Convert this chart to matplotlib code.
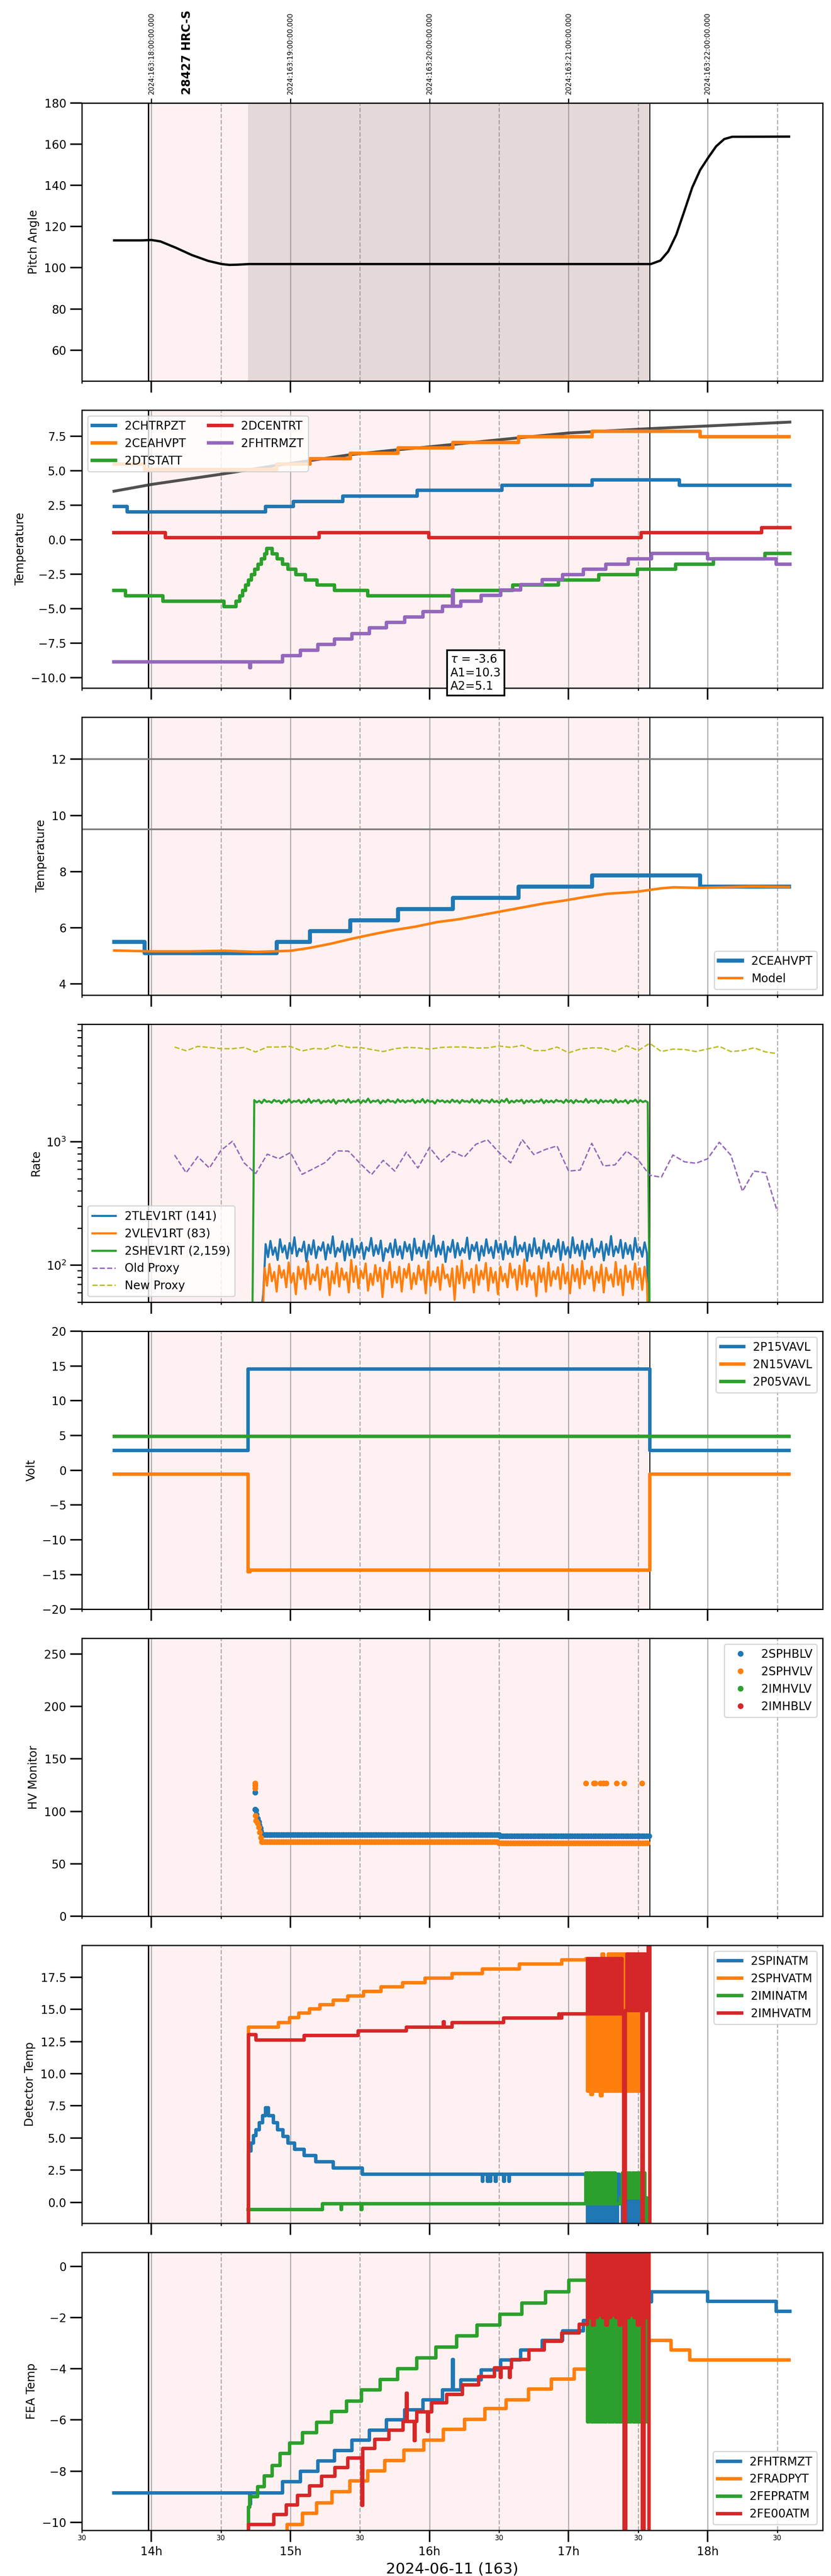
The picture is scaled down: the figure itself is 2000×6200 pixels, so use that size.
import numpy as np
import matplotlib
matplotlib.use('Agg')
import matplotlib.pyplot as plt
import matplotlib.dates as mdates
from matplotlib.ticker import MultipleLocator, FuncFormatter
from datetime import timedelta

plt.rcParams['font.size'] = 10

# times are local hours on 2024-06-11 (UTC = local + 4h)
DAY = np.datetime64('2024-06-11T00:00:00')


def hrs(h):
    h = np.asarray(h, dtype=float)
    return DAY + np.round(h * 3600000).astype('int64').astype('timedelta64[ms]')


obs_start = 13.977
obs_stop = 17.583
slew_start = 14.696
xmin, xmax = 13.5, 18.827

# ---- pitch
pitch_t = [13.732, 13.93, 14.0, 14.065, 14.18, 14.29, 14.41, 14.505, 14.56, 14.62, 14.70,
           17.591, 17.66, 17.717, 17.774, 17.832, 17.889, 17.946, 18.004, 18.061, 18.119, 18.176, 18.585]
pitch_v = [113.3, 113.3, 113.5, 112.8, 109.6, 106.2, 103.3, 101.8, 101.4, 101.5, 101.8,
           101.8, 103.5, 108.0, 116.0, 127.5, 139.0, 147.5, 153.5, 159.0, 162.5, 163.6, 163.7]

# ---- temperatures
chtrpzt_t = [13.732, 13.826, 14.82, 15.02, 15.377, 15.91, 16.52, 17.17, 17.795, 18.59]
chtrpzt_v = [2.40, 2.03, 2.40, 2.79, 3.18, 3.58, 3.94, 4.33, 3.94, 3.94]

ceahvpt_t = [13.732, 13.95, 14.90, 15.14, 15.43, 15.774, 16.168, 16.64, 17.17, 17.946, 18.585]
ceahvpt_v = [5.50, 5.10, 5.50, 5.88, 6.27, 6.66, 7.06, 7.46, 7.86, 7.46, 7.46]

dtstatt_t = [13.731, 13.813, 14.084, 14.523, 14.609, 14.634, 14.657, 14.676, 14.699, 14.72, 14.743,
             14.768, 14.791, 14.816, 14.829, 14.867, 14.905, 14.944, 14.982, 15.039, 15.106, 15.192,
             15.316, 15.555, 16.166, 16.597, 16.927, 17.218, 17.495, 17.769, 18.04, 18.413, 18.591]
dtstatt_v = [-3.68, -4.07, -4.44, -4.83, -4.44, -4.07, -3.68, -3.29, -2.92, -2.53, -2.14,
             -1.77, -1.38, -1.02, -0.62, -1.02, -1.38, -1.77, -2.14, -2.53, -2.92, -3.29,
             -3.68, -4.07, -3.68, -3.29, -2.92, -2.53, -2.14, -1.77, -1.38, -0.99, -0.99]

dcentrt_t = [13.731, 14.10, 15.205, 15.994, 17.52, 18.388, 18.591]
dcentrt_v = [0.52, 0.16, 0.52, 0.16, 0.52, 0.88, 0.88]

fhtrmzt_t = [13.731, 14.706, 14.712, 14.944, 15.072, 15.197, 15.316, 15.442, 15.566, 15.69,
             15.822, 15.952, 16.092, 16.166, 16.170, 16.226, 16.371, 16.512, 16.656, 16.809,
             16.958, 17.106, 17.266, 17.428, 17.595, 17.998, 18.491, 18.59]
fhtrmzt_v = [-8.84, -9.28, -8.84, -8.41, -8.00, -7.60, -7.19, -6.79, -6.39, -5.99,
             -5.60, -5.22, -4.82, -3.64, -4.82, -4.44, -4.04, -3.65, -3.26, -2.90,
             -2.52, -2.12, -1.77, -1.38, -0.99, -1.37, -1.76, -1.76]

fit_t = [13.731, 14.0, 14.5, 14.905, 15.135, 15.425, 15.765, 16.0, 16.5, 17.0, 17.59, 18.0, 18.591]
fit_v = [3.52, 4.01, 4.75, 5.40, 5.73, 6.16, 6.52, 6.74, 7.25, 7.74, 8.06, 8.25, 8.53]
fit_text = '$\\tau$ = -3.6\nA1=10.3\nA2=5.1'

model_t = [13.732, 13.989, 14.294, 14.524, 14.753, 15.002, 15.136, 15.289, 15.442, 15.595,
           15.748, 15.90, 16.054, 16.207, 16.36, 16.512, 16.665, 16.818, 16.971, 17.124,
           17.277, 17.488, 17.66, 17.755, 17.927, 18.119, 18.31, 18.585]
model_v = [5.19, 5.16, 5.16, 5.18, 5.14, 5.18, 5.28, 5.43, 5.61, 5.77,
           5.92, 6.04, 6.20, 6.30, 6.44, 6.58, 6.72, 6.86, 6.97, 7.10,
           7.21, 7.28, 7.40, 7.44, 7.42, 7.44, 7.47, 7.45]
ceahvpt_limits = [12.0, 9.5]

# ---- rates
tlev_span = (14.787, 17.581)
tlev_v = [40, 58,
          148, 116, 157, 121, 139, 110, 162, 127, 144, 113, 151, 124, 168, 118, 136, 129, 155, 107, 146, 122,
          159, 114, 141, 131, 153, 111, 147, 125, 171, 117, 138, 128, 156, 109, 149, 120, 163, 115, 143, 126,
          152, 112, 140, 130, 166, 119, 145, 123, 158, 108, 137, 127, 150, 116, 161, 121, 142, 113, 154, 129,
          147, 110, 164, 124, 139, 118, 157, 114, 149, 131, 173, 117, 144, 122, 155, 106, 141, 128, 160, 115,
          151, 120, 137, 126, 167, 112, 146, 130, 153, 109, 143, 119, 162, 125, 140, 114, 158, 127, 148, 111,
          156, 123, 138, 116, 170, 121, 145, 129, 152, 108, 147, 118, 165, 124, 139, 113, 159, 126, 150, 117,
          143, 128, 161, 110, 154, 122, 140, 115, 168, 125, 146, 119, 157, 112, 149, 130, 163, 116, 137, 127,
          155, 109, 148, 121, 172, 118, 142, 126, 160, 114, 151, 123, 145, 111, 166, 128, 139, 117, 153, 124,
          10]
vlev_span = (14.797, 17.581)
vlev_v = [30,
          95, 68, 102, 74, 88, 61, 99, 79, 91, 66, 105, 72, 86, 58, 97, 77, 93, 64, 108, 70,
          84, 75, 101, 63, 92, 80, 96, 57, 89, 71, 104, 67, 94, 76, 87, 60, 110, 73, 98, 65,
          90, 78, 103, 62, 85, 69, 100, 74, 95, 55, 91, 77, 106, 66, 88, 72, 97, 61, 93, 79,
          102, 64, 86, 70, 99, 76, 92, 59, 107, 68, 89, 73, 96, 63, 101, 78, 84, 67, 94, 52,
          98, 71, 109, 65, 87, 75, 93, 60, 100, 69, 90, 77, 104, 62, 95, 72, 88, 58, 97, 74,
          85, 66, 103, 79, 92, 63, 99, 70, 111, 67, 91, 76, 86, 56, 98, 73, 94, 61, 105, 68,
          89, 77, 96, 64, 102, 71, 87, 59, 100, 74, 93, 65, 108, 70, 90, 78, 97, 62, 88, 72,
          101, 60, 95, 75, 84, 67, 106, 69, 92, 57, 99, 73, 89, 64, 103, 76, 94, 63, 97, 70,
          10]
shev_span = (14.722, 17.587)
shev_v = [10,
          2180, 2090, 2150, 2060, 2200, 2110, 2140, 2075, 2190, 2120, 2160, 2050, 2170, 2100, 2210, 2080, 2145, 2115, 2185, 2065,
          2155, 2095, 2230, 2070, 2165, 2125, 2195, 2055, 2150, 2105, 2175, 2085, 2205, 2040, 2160, 2130, 2180, 2090, 2220, 2075,
          2140, 2110, 2190, 2060, 2170, 2100, 2240, 2080, 2155, 2120, 2185, 2050, 2165, 2095, 2200, 2115, 2145, 2070, 2210, 2105,
          2175, 2085, 2160, 2125, 2195, 2065, 2150, 2100, 2225, 2075, 2180, 2110, 2140, 2045, 2190, 2120, 2170, 2090, 2155, 2080,
          2200, 2105, 2165, 2060, 2185, 2115, 2145, 2085, 2215, 2095, 2170, 2055, 2190, 2125, 2160, 2075, 2205, 2100, 2150, 2070,
          2180, 2110, 2235, 2065, 2155, 2090, 2175, 2120, 2195, 2050, 2165, 2105, 2185, 2080, 2145, 2115, 2210, 2060, 2170, 2095,
          2160, 2085, 2190, 2125, 2150, 2070, 2200, 2100, 2175, 2060, 2185, 2110, 2140, 2090, 2225, 2075, 2165, 2120, 2180, 2055,
          2195, 2095, 2155, 2115, 2170, 2065, 2210, 2085, 2145, 2105, 2180, 2050, 2160, 2120, 2200, 2080, 2175, 2100, 2150, 2090,
          10]
# proxies every 5 minutes, 14:10 .. 18:30
proxy_span = (14 + 10 / 60, 18.5)
old_proxy = [782, 561, 758, 613, 851, 1012, 675, 553, 794, 729, 819, 545, 606, 680, 844, 841, 670, 542, 707, 579, 825, 613,
             901, 688, 835, 752, 955, 1039, 819, 675, 1043, 788, 867, 926, 579, 590, 973, 637, 650, 841, 715, 536, 516, 782,
             688, 670, 729, 992, 779, 397, 579, 561, 273]
new_proxy = [5877, 5483, 5945, 5832, 5698, 5698, 5832, 5358, 5877, 5877, 5945, 5462, 5720, 5654, 6109, 5832, 5832, 5611,
             5400, 5698, 5832, 5787, 5654, 5832, 5877, 5877, 5765, 5787, 5991, 5832, 6061, 5504, 5504, 5877, 5277, 5654,
             5787, 5765, 5400, 6015, 5504, 6300, 5400, 5654, 5611, 5400, 5676, 5945, 5400, 5504, 5787, 5358, 5196]

# ---- voltages
p15_t = [13.732, 14.696, 17.583, 18.585]
p15_v = [2.85, 14.58, 2.85, 2.85]
n15_t = [13.732, 14.696, 14.71, 17.583, 18.585]
n15_v = [-0.58, -14.6, -14.38, -0.58, -0.58]
p05_t = [13.732, 18.585]
p05_v = [4.88, 4.88]

# ---- HV monitors (one reading per minute on flat levels)
sphblv_t = [14.745, 14.746, 14.752, 14.754, 14.765, 14.772, 14.776, 14.784, 14.788, 14.792]
sphblv_v = [118, 102, 101, 97, 93, 90, 87, 84, 81, 79]
sphblv_levels = [(14.80, 16.51, 77.8), (16.51, 17.583, 76.5)]
sphvlv_t = [14.745, 14.746, 14.747, 14.750, 14.753, 14.765, 14.772, 14.780, 14.788, 14.795,
            17.124, 17.18, 17.19, 17.23, 17.25, 17.27, 17.346, 17.40, 17.526]
sphvlv_v = [127, 125, 122, 96, 91, 89, 85, 80, 75, 71,
            127, 127, 127, 127, 127, 127, 127, 127, 127]
sphvlv_levels = [(14.80, 16.50, 70.8), (16.50, 17.583, 69.8)]
imhvlv_t, imhvlv_v = [], []
imhblv_t, imhblv_v = [], []

# ---- detector temperatures
burst_a = 17.124
spinatm_t = [14.696, 14.697, 14.715, 14.734, 14.753, 14.776, 14.799, 14.822, 14.841, 14.876,
             14.906, 14.945, 14.983, 15.029, 15.098, 15.182, 15.308, 15.518, 16.379, 16.384,
             16.417, 16.422, 16.436, 16.441, 16.474, 16.479, 16.532, 16.537, 16.570, 16.575]
spinatm_v = [-3.0, 4.0, 4.6, 5.2, 5.65, 6.2, 6.73, 7.35, 6.73, 6.2,
             5.65, 5.14, 4.62, 4.12, 3.65, 3.14, 2.68, 2.19, 1.65, 2.19,
             1.65, 2.19, 1.65, 2.19, 1.65, 2.19, 1.65, 2.19, 1.65, 2.19]
spinatm_burst_end = 17.564
spinatm_burst = [2.19, -3.0, 2.19, -3.0, 2.19, -3.0, 2.19, -3.0, 2.19, -3.0, 2.19, -3.0, 2.19, -3.0,
                 2.19, -3.0, 2.19, -3.0, 2.19, 0.34, 0.34, -3.0, 0.34, -3.0, 0.34, -3.0, 0.34, -3.0,
                 0.34, -3.0, 0.34, -3.0, 0.34, -3.0, 0.34, -3.0]
sphvatm_t = [14.696, 14.697, 14.914, 14.994, 15.059, 15.136, 15.212, 15.308, 15.411, 15.526,
             15.652, 15.805, 15.969, 16.161, 16.379, 16.646, 16.952]
sphvatm_v = [-3.0, 13.62, 13.97, 14.36, 14.70, 15.05, 15.36, 15.70, 16.05, 16.39,
             16.75, 17.08, 17.44, 17.79, 18.13, 18.52, 18.86]
sphvatm_burst_end = 17.53
sphvatm_burst = [18.95, 8.66, 18.95, 8.40, 18.95, 8.66, 18.95, 8.66, 18.95, 8.30, 19.29, 8.66,
                 18.95, 8.66, 19.29, 8.66, 19.29, 8.66, 19.29, 8.66, 19.29, 8.66, 19.29, 8.66,
                 19.29, 8.66, 19.29, 8.66, 19.29, 8.66, 19.29, 8.66, 19.29, 8.66, 19.29, -3.0]
iminatm_t = [14.696, 15.231, 15.363, 15.368, 15.509, 15.514]
iminatm_v = [-0.55, -0.09, -0.55, -0.09, -0.55, -0.09]
iminatm_burst_end = 17.56
iminatm_burst = [2.27, -0.09, 2.27, -0.09, 2.27, -0.09, 2.27, -0.09, 2.27, -0.09, 2.27, -0.09,
                 2.27, -0.09, 2.27, -0.09, 2.27, -0.09, -0.09, -0.09, 0.34, 2.27, 0.34, 2.27,
                 0.34, 2.27, 0.34, 2.27, 0.34, 2.27, 0.34, 2.27, 0.34, 2.27, 0.34, -3.0]
imhvatm_t = [14.696, 14.697, 14.753, 15.098, 15.488, 15.832, 16.100, 16.106, 16.161, 16.532,
             16.930, 16.936, 16.952]
imhvatm_v = [-3.0, 13.05, 12.62, 12.97, 13.32, 13.62, 14.05, 13.62, 13.97, 14.33,
             14.66, 14.33, 14.66]
imhvatm_burst_end = 17.585
imhvatm_burst = [14.66, 18.95, 14.66, 18.95, 14.66, 18.95, 14.66, 18.95, 14.66, 18.95, 14.66, 18.95,
                 14.66, 18.95, 14.66, 18.95, 14.66, 18.95, 14.66, 18.95, 14.66, 18.95, 14.66, -3.0,
                 14.90, 19.29, 14.90, 19.29, 14.90, 19.29, 14.90, 19.29, 14.90, 19.29, -3.0, 19.29,
                 14.90, 19.29, 25.0, -3.0]

# ---- FEA temperatures
fradpyt_t = [14.970, 14.975, 15.086, 15.189, 15.300, 15.426, 15.556, 15.679, 15.816, 15.958, 16.099,
             16.252, 16.398, 16.551, 16.711, 16.876, 17.040, 17.201, 17.354, 17.449, 17.736, 17.870, 18.585]
fradpyt_v = [-10.6, -10.08, -9.64, -9.23, -8.79, -8.37, -7.99, -7.58, -7.17, -6.78, -6.36,
             -5.98, -5.56, -5.21, -4.79, -4.40, -4.02, -3.64, -3.24, -2.89, -3.26, -3.66, -3.66]
fepratm_t = [14.696, 14.697, 14.707, 14.765, 14.811, 14.868, 14.925, 14.994, 15.086, 15.189,
             15.296, 15.403, 15.511, 15.644, 15.771, 15.908, 16.046, 16.195, 16.340, 16.505,
             16.665, 16.834, 17.002]
fepratm_v = [-10.5, -9.4, -8.99, -8.6, -8.18, -7.77, -7.31, -6.9, -6.5, -6.09,
             -5.67, -5.26, -4.83, -4.42, -4.0, -3.57, -3.16, -2.72, -2.29, -1.87,
             -1.44, -1.0, -0.55]
fepratm_burst_end = 17.564
fepratm_burst = [-0.55, -6.07] * 18
fe00atm_t = [14.696, 14.697, 14.880, 14.971, 15.052, 15.136, 15.224, 15.319, 15.411, 15.515,
             15.521, 15.606, 15.709, 15.809, 15.834, 15.840, 15.891, 15.897, 15.908, 15.987,
             15.993, 16.015, 16.122, 16.237, 16.352, 16.467, 16.510, 16.515, 16.575, 16.580,
             16.589, 16.715, 16.826, 16.952, 17.075]
fe00atm_v = [-10.6, -10.08, -9.69, -9.31, -8.94, -8.57, -8.2, -7.85, -7.48, -9.33,
             -7.11, -6.75, -6.4, -6.05, -4.96, -6.05, -6.8, -6.05, -5.68, -6.45,
             -5.68, -5.33, -5.0, -4.63, -4.3, -3.97, -4.34, -3.97, -4.34, -3.97,
             -3.64, -3.26, -2.93, -2.6, -2.27]
fe00atm_burst_end = 17.59
fe00atm_burst = [-2.27, 0.8, -2.0, 0.8, -2.3, 0.8, -2.0, 0.8, -1.9, 0.8, -2.0, 0.8, -2.3, 0.8,
                 -2.0, 0.8, -1.9, 0.8, -2.0, 0.8, -2.3, 0.8, -2.0, -11.0, 0.8, -2.0, 0.8, -1.9,
                 0.8, -2.0, 0.8, -2.3, 0.8, -2.0, -11.0, 0.8, -2.0, 0.8, -11.0, -11.0]

LW = 3


def with_burst(t, v, end, burst):
    bt = np.linspace(burst_a, end, len(burst))
    return np.concatenate([t, bt]), np.concatenate([v, burst])


def spread(span, vals):
    return np.linspace(span[0], span[1], len(vals))


def levels(seg):
    tt, vv = [], []
    for a, b, val in seg:
        x = np.arange(a, b, 1 / 60)
        tt.append(x)
        vv.append(np.full(len(x), val))
    return np.concatenate(tt), np.concatenate(vv)


fig, axes = plt.subplots(8, 1, figsize=(10, 31), sharex=True)
fig.subplots_adjust(left=0.0985, right=0.99, top=0.96, bottom=0.0177, hspace=0.1046)

for ax in axes:
    ax.axvspan(hrs(obs_start), hrs(obs_stop), color='red', alpha=0.055, lw=0)
    ax.axvline(hrs(obs_start), color='k', lw=1.2)
    ax.axvline(hrs(obs_stop), color='k', lw=0.8)
    ax.grid(which='major', axis='x', color='gray', alpha=0.6, lw=1)
    ax.grid(which='minor', axis='x', color='gray', alpha=0.6, lw=1, ls='--')
    ax.tick_params(which='major', length=10, width=1.3, direction='out')
    ax.tick_params(which='minor', length=2, width=1)
    for s in ax.spines.values():
        s.set_linewidth(1.1)

# pitch
ax = axes[0]
ax.axvspan(hrs(slew_start), hrs(obs_stop), color='k', alpha=0.1, lw=0)
ax.plot(hrs(pitch_t), pitch_v, color='k', lw=2)
ax.set_ylim(45, 180)
ax.set_ylabel('Pitch Angle')
top = ax.secondary_xaxis('top')
top.xaxis.set_major_locator(mdates.HourLocator())
top.xaxis.set_major_formatter(FuncFormatter(
    lambda x, pos: (mdates.num2date(x) + timedelta(hours=4)).strftime('%Y:%j:%H:%M:%S.000')))
top.tick_params(labelsize=6, rotation=90, length=4, width=1)
ax.text(hrs(14.256), 1.03, '28427 HRC-S', transform=ax.get_xaxis_transform(), rotation=90,
        ha='center', va='bottom', fontsize=10, fontweight='bold')

# temperatures
ax = axes[1]
ax.plot(hrs(fit_t), fit_v, color='#333333', lw=2.5, alpha=0.85)
ax.step(hrs(chtrpzt_t), chtrpzt_v, where='post', lw=LW, label='2CHTRPZT')
ax.step(hrs(ceahvpt_t), ceahvpt_v, where='post', lw=LW, label='2CEAHVPT')
ax.step(hrs(dtstatt_t), dtstatt_v, where='post', lw=LW, label='2DTSTATT')
ax.step(hrs(dcentrt_t), dcentrt_v, where='post', lw=LW, label='2DCENTRT')
ax.step(hrs(fhtrmzt_t), fhtrmzt_v, where='post', lw=LW, label='2FHTRMZT')
ax.set_ylim(-10.75, 9.4)
ax.yaxis.set_major_locator(MultipleLocator(2.5))
ax.set_ylabel('Temperature')
ax.legend(loc='upper left', ncol=2)
ax.text(hrs(16.15), -11.05, fit_text, ha='left', va='bottom',
        bbox=dict(boxstyle='square,pad=0.3', fc='white', ec='black', lw=1.5))

# CEA HV temperature vs model
ax = axes[2]
for lim in ceahvpt_limits:
    ax.axhline(lim, color='gray', lw=1.5)
ax.step(hrs(ceahvpt_t), ceahvpt_v, where='post', lw=LW + 0.5, label='2CEAHVPT')
ax.plot(hrs(model_t), model_v, lw=2.2, label='Model')
ax.set_ylim(3.6, 13.5)
ax.yaxis.set_major_locator(MultipleLocator(2))
ax.set_ylabel('Temperature')
ax.legend(loc='lower right')

# rates
ax = axes[3]
ax.plot(hrs(spread(tlev_span, tlev_v)), tlev_v, lw=1.8, color='C0', label='2TLEV1RT (141)')
ax.plot(hrs(spread(vlev_span, vlev_v)), vlev_v, lw=1.8, color='C1', label='2VLEV1RT (83)')
ax.plot(hrs(spread(shev_span, shev_v)), shev_v, lw=1.8, color='C2', label='2SHEV1RT (2,159)')
ax.plot(hrs(spread(proxy_span, old_proxy)), old_proxy, ls='--', lw=1.2, color='tab:purple', label='Old Proxy')
ax.plot(hrs(spread(proxy_span, new_proxy)), new_proxy, ls='--', lw=1.2, color='tab:olive', label='New Proxy')
ax.set_yscale('log')
ax.set_ylim(50, 9000)
ax.tick_params(axis='y', which='minor', length=4, width=1)
ax.set_ylabel('Rate')
ax.legend(loc='lower left')

# voltages
ax = axes[4]
ax.step(hrs(p15_t), p15_v, where='post', lw=LW, label='2P15VAVL')
ax.step(hrs(n15_t), n15_v, where='post', lw=LW, label='2N15VAVL')
ax.step(hrs(p05_t), p05_v, where='post', lw=LW, label='2P05VAVL')
ax.set_ylim(-20, 20)
ax.yaxis.set_major_locator(MultipleLocator(5))
ax.set_ylabel('Volt')
ax.legend(loc='upper right')

# HV monitors
ax = axes[5]
bt, bv = levels(sphblv_levels)
ot, ov = levels(sphvlv_levels)
ax.plot(hrs(np.concatenate([sphblv_t, bt])), np.concatenate([sphblv_v, bv]), 'o', ms=4, color='C0', label='2SPHBLV')
ax.plot(hrs(np.concatenate([sphvlv_t, ot])), np.concatenate([sphvlv_v, ov]), 'o', ms=4, color='C1', label='2SPHVLV')
ax.plot(hrs(imhvlv_t), imhvlv_v, 'o', ms=4, color='C2', label='2IMHVLV')
ax.plot(hrs(imhblv_t), imhblv_v, 'o', ms=4, color='C3', label='2IMHBLV')
ax.set_ylim(0, 265)
ax.yaxis.set_major_locator(MultipleLocator(50))
ax.set_ylabel('HV Monitor')
ax.legend(loc='upper right')

# detector temperatures
ax = axes[6]
for t, v, e, b, lab in [(spinatm_t, spinatm_v, spinatm_burst_end, spinatm_burst, '2SPINATM'),
                        (sphvatm_t, sphvatm_v, sphvatm_burst_end, sphvatm_burst, '2SPHVATM'),
                        (iminatm_t, iminatm_v, iminatm_burst_end, iminatm_burst, '2IMINATM'),
                        (imhvatm_t, imhvatm_v, imhvatm_burst_end, imhvatm_burst, '2IMHVATM')]:
    tt, vv = with_burst(t, v, e, b)
    ax.step(hrs(tt), vv, where='post', lw=LW, label=lab)
ax.set_ylim(-1.63, 19.97)
ax.yaxis.set_major_locator(MultipleLocator(2.5))
ax.set_ylabel('Detector Temp')
ax.legend(loc='upper right')

# FEA temperatures
ax = axes[7]
ax.step(hrs(fhtrmzt_t), fhtrmzt_v, where='post', lw=LW, label='2FHTRMZT')
ax.step(hrs(fradpyt_t), fradpyt_v, where='post', lw=LW, label='2FRADPYT')
tt, vv = with_burst(fepratm_t, fepratm_v, fepratm_burst_end, fepratm_burst)
ax.step(hrs(tt), vv, where='post', lw=LW, label='2FEPRATM')
tt, vv = with_burst(fe00atm_t, fe00atm_v, fe00atm_burst_end, fe00atm_burst)
ax.step(hrs(tt), vv, where='post', lw=LW, label='2FE00ATM')
ax.set_ylim(-10.31, 0.54)
ax.yaxis.set_major_locator(MultipleLocator(2))
ax.set_ylabel('FEA Temp')
ax.legend(loc='lower right')

ax.xaxis.set_major_locator(mdates.HourLocator())
ax.xaxis.set_major_formatter(mdates.DateFormatter('%Hh'))
ax.xaxis.set_minor_locator(mdates.MinuteLocator(byminute=[30]))
ax.xaxis.set_minor_formatter(mdates.DateFormatter('%M'))
ax.tick_params(axis='x', which='minor', labelsize=6, pad=1.5)
ax.set_xlim(hrs(xmin), hrs(xmax))
ax.set_xlabel('2024-06-11 (163)', fontsize=13)

fig.savefig('out.png', dpi=200)
